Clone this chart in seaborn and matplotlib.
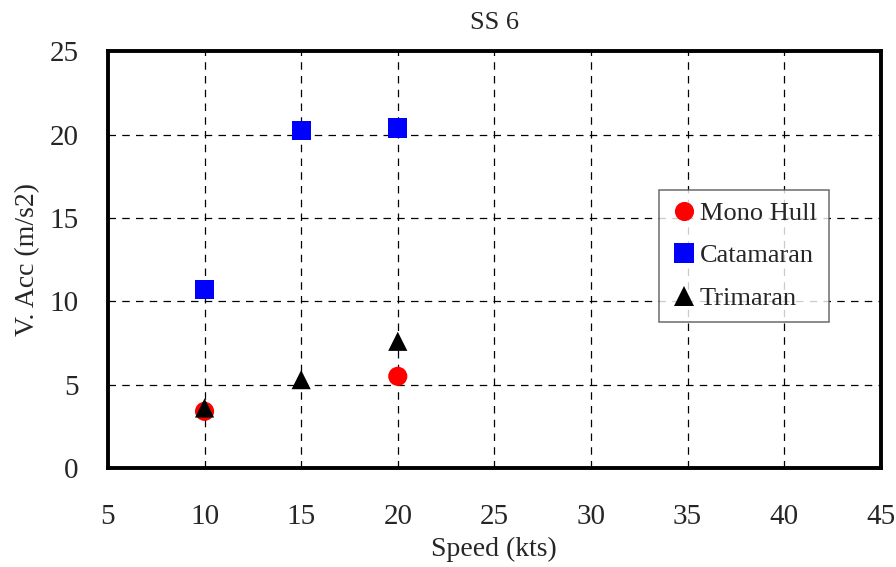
import pandas as pd
import matplotlib
matplotlib.use('Agg')
import matplotlib.pyplot as plt
import seaborn as sns

# 数据
mono_speed = [10, 20]
mono_acc = [3.4, 5.5]
cat_speed = [10, 15, 20]
cat_acc = [10.7, 20.25, 20.4]
tri_speed = [10, 15, 20]
tri_acc = [3.6, 5.3, 7.6]

series = ['Mono Hull', 'Catamaran', 'Trimaran']
colors = {'Mono Hull': '#ff0000', 'Catamaran': '#0000ff', 'Trimaran': '#000000'}
markers = {'Mono Hull': 'o', 'Catamaran': 's', 'Trimaran': '^'}

df = pd.concat([
    pd.DataFrame({'speed': mono_speed, 'acc': mono_acc, 'hull': 'Mono Hull'}),
    pd.DataFrame({'speed': cat_speed, 'acc': cat_acc, 'hull': 'Catamaran'}),
    pd.DataFrame({'speed': tri_speed, 'acc': tri_acc, 'hull': 'Trimaran'}),
])

sns.set_style('white')
plt.rcParams['font.family'] = ['Liberation Serif', 'DejaVu Serif']

fig = plt.figure(figsize=(8.96, 5.67), dpi=100)
ax = fig.add_axes([0.1205, 0.1746, 0.8625, 0.735])

sns.scatterplot(data=df, x='speed', y='acc', hue='hull', style='hull',
                hue_order=series, style_order=series,
                palette=colors, markers=markers, s=190, linewidth=0, ax=ax)

ax.set_xlim(5, 45)
ax.set_ylim(0, 25)
ax.set_xticks(range(5, 50, 5))
ax.set_yticks(range(0, 30, 5))
ax.grid(True, color='black', linestyle=(0, (6, 5)), linewidth=0.9)
for s in ax.spines.values():
    s.set_linewidth(2.8)
    s.set_color('black')
ax.tick_params(axis='x', direction='in', length=0, pad=26, labelsize=21)
ax.tick_params(axis='y', direction='in', length=0, pad=21, labelsize=21)

ax.set_title('SS 6', fontsize=19, pad=16)
ax.set_xlabel('Speed (kts)', fontsize=20, labelpad=5)
ax.set_ylabel('V. Acc (m/s2)', fontsize=20, labelpad=7)

leg = ax.legend(loc='upper left', bbox_to_anchor=(0.713, 0.668), fontsize=19,
                frameon=True, fancybox=False, borderaxespad=0,
                handletextpad=0.1, labelspacing=0.72, borderpad=0.45,
                handlelength=1.0, markerscale=1.0)
leg.get_frame().set_edgecolor('#555555')
leg.get_frame().set_linewidth(1.2)

plt.savefig('out.png', dpi=100)
plt.close()
